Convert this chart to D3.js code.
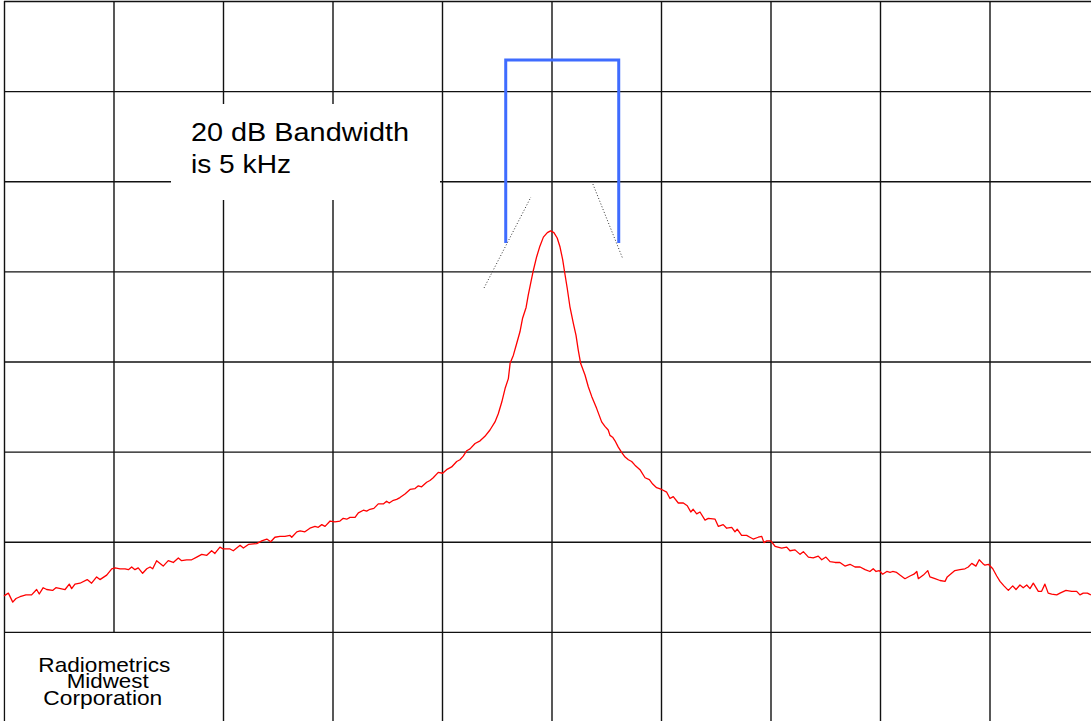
<!DOCTYPE html>
<html>
<head>
<meta charset="utf-8">
<script src="https://cdn.jsdelivr.net/npm/d3@7"></script>
<style>
  body { margin: 0; background: #fff; }
  svg { display: block; }
  text { font-family: "Liberation Sans", Arial, sans-serif; fill: #000; }
</style>
</head>
<body>
<div id="chart"></div>
<script>
// spectrum trace, [offset kHz, level dB]
const trace = [
  [-25.00,-66.0],[-24.80,-65.7],[-24.60,-66.7],[-24.45,-66.3],[-24.27,-66.1],[-24.15,-66.0],[-24.00,-65.9],[-23.74,-65.9],
  [-23.51,-65.3],[-23.39,-65.8],[-23.21,-65.1],[-23.05,-65.3],[-22.78,-65.4],[-22.63,-65.1],[-22.21,-65.3],[-22.02,-64.7],
  [-21.91,-65.2],[-21.76,-64.7],[-21.53,-64.6],[-21.20,-64.2],[-21.00,-64.6],[-20.77,-63.9],[-20.62,-64.2],[-20.31,-63.7],
  [-20.08,-63.0],[-19.93,-62.9],[-19.70,-63.0],[-19.47,-63.0],[-19.32,-63.1],[-19.17,-62.8],[-19.02,-63.1],[-18.87,-62.9],
  [-18.67,-63.5],[-18.48,-63.0],[-18.33,-62.8],[-18.21,-63.0],[-18.03,-62.1],[-17.73,-62.7],[-17.50,-62.1],[-17.27,-62.3],
  [-17.04,-61.8],[-16.89,-62.1],[-16.66,-62.0],[-16.43,-62.0],[-16.20,-61.7],[-15.97,-61.4],[-15.74,-61.5],[-15.52,-61.0],
  [-15.37,-61.3],[-15.14,-60.6],[-14.99,-60.8],[-14.68,-60.8],[-14.53,-61.0],[-14.22,-60.4],
  [-14.07,-60.7],[-13.84,-60.3],[-13.46,-60.2],[-13.23,-59.9],[-13.00,-59.7],[-12.82,-60.0],[-12.63,-59.5],[-12.40,-59.4],
  [-12.17,-59.4],[-11.94,-59.3],[-11.86,-59.5],[-11.63,-58.9],[-11.48,-58.8],[-11.26,-58.9],[-11.03,-58.5],[-10.80,-58.3],
  [-10.65,-58.4],[-10.49,-58.1],[-10.34,-58.3],[-10.11,-57.7],[-9.89,-57.8],[-9.66,-57.7],[-9.51,-57.4],[-9.35,-57.5],
  [-9.20,-57.3],[-8.97,-57.3],[-8.82,-56.8],[-8.59,-56.5],[-8.44,-56.6],[-8.29,-56.4],[-8.11,-56.3],[-7.91,-55.8],
  [-7.68,-55.8],[-7.53,-55.5],[-7.41,-55.7],[-7.22,-55.4],[-7.07,-55.3],[-6.92,-55.1],[-6.69,-54.7],[-6.46,-54.2],
  [-6.23,-54.1],[-6.08,-53.8],[-5.93,-53.9],[-5.70,-53.4],[-5.55,-53.2],[-5.40,-52.9],[-5.17,-52.3],[-4.97,-52.4],
  [-4.79,-52.0],[-4.56,-51.7],[-4.33,-51.1],[-4.18,-50.9],[-4.03,-50.5],[-3.87,-49.9],[-3.72,-49.7],
  [-3.49,-49.1],[-3.26,-48.8],[-3.04,-48.3],[-2.81,-47.6],[-2.58,-46.7],[-2.43,-45.8],[-2.27,-44.5],[-2.12,-43.0],
  [-1.97,-41.9],[-1.89,-40.2],[-1.74,-39.3],[-1.59,-38.0],[-1.44,-36.7],[-1.32,-35.2],[-1.16,-34.0],[-1.06,-32.6],
  [-0.95,-31.3],[-0.83,-29.9],[-0.68,-28.4],[-0.53,-27.2],[-0.37,-26.2],[-0.19,-25.7],[-0.04,-25.5],[0.11,-25.7],
  [0.26,-26.3],[0.39,-27.3],[0.51,-28.7],[0.62,-30.4],[0.72,-31.9],[0.84,-33.9],[1.00,-35.8],[1.12,-37.1],
  [1.22,-38.7],[1.33,-40.2],[1.53,-41.5],[1.68,-42.8],[1.84,-43.9],[2.06,-45.2],[2.29,-46.7],[2.44,-47.2],
  [2.59,-47.6],[2.67,-48.2],[2.79,-48.4],[2.90,-48.8],[3.05,-49.5],[3.21,-50.1],[3.36,-50.6],[3.51,-50.9],
  [3.66,-51.1],[3.81,-51.5],[4.04,-52.0],
  [4.27,-52.9],[4.47,-53.1],[4.62,-53.6],[4.80,-54.0],[5.03,-54.2],[5.26,-54.5],[5.41,-55.2],[5.56,-55.0],
  [5.79,-55.7],[6.02,-55.7],[6.20,-56.0],[6.36,-56.7],[6.47,-56.4],[6.63,-56.9],[6.78,-56.7],[7.01,-57.6],
  [7.16,-57.4],[7.47,-57.5],[7.62,-58.3],[7.84,-58.1],[8.00,-58.5],[8.23,-58.4],[8.38,-58.9],[8.48,-58.6],
  [8.68,-59.3],[8.91,-59.3],[9.06,-59.5],[9.21,-59.7],[9.44,-59.5],[9.60,-59.4],[9.70,-60.1],[9.83,-59.9],
  [10.01,-59.9],[10.21,-60.5],[10.51,-60.7],[10.74,-60.6],[10.89,-61.0],[11.12,-60.9],[11.35,-61.4],[11.50,-61.1],
  [11.73,-61.7],[11.95,-61.8],[12.18,-61.6],[12.34,-62.0],[12.53,-61.7],[12.72,-62.2],[12.95,-62.3],[13.17,-62.3],
  [13.40,-62.7],[13.63,-62.5],[13.86,-62.8],[14.09,-62.8],
  [14.32,-63.1],[14.54,-63.3],[14.69,-63.0],[14.82,-63.3],[14.97,-63.2],[15.12,-63.6],[15.31,-63.3],[15.46,-63.4],
  [15.58,-63.3],[15.76,-63.4],[15.91,-63.7],[16.14,-64.1],[16.37,-63.8],[16.55,-63.6],[16.68,-63.3],[16.75,-64.1],
  [16.98,-63.7],[17.18,-63.2],[17.28,-63.9],[17.51,-64.1],[17.74,-64.3],[17.97,-64.4],[18.07,-63.9],[18.27,-63.5],
  [18.42,-63.2],[18.65,-63.1],[18.88,-63.0],[19.03,-62.8],[19.19,-62.4],[19.38,-62.7],[19.53,-62.0],[19.69,-62.4],
  [19.79,-62.6],[19.95,-62.5],[20.15,-63.0],[20.33,-63.8],[20.48,-64.4],[20.66,-64.9],[20.86,-65.4],[21.06,-64.9],
  [21.21,-65.3],[21.39,-64.8],[21.54,-65.1],[21.70,-64.8],[21.85,-65.2],[22.00,-64.6],[22.23,-65.5],[22.38,-65.5],
  [22.53,-64.7],[22.68,-65.7],[22.84,-65.8],[23.07,-65.9],[23.22,-65.7],[23.49,-65.4],[23.75,-65.5],[23.98,-65.5],
  [24.13,-65.9],[24.28,-65.7],[24.47,-65.7],[24.63,-65.9]
]

// graticule: 5 kHz / div, 10 dB / div
const gridFreq = [-25, -20, -15, -10, -5, 0, 5, 10, 15, 20]
const gridLevel = [0, -10, -20, -30, -40, -50, -60, -70]

// 20 dB bandwidth bracket
const bracketFreq = [-2.09, -2.09, 3.07, 3.07]
const bracketLevel = [-26.85, -6.55, -6.55, -26.85]

// dotted slope guides
const slopeLeft = [[-3.08, -31.84], [-0.94, -21.75]]
const slopeRight = [[1.89, -20.31], [3.26, -28.63]]

const noteLines = ['20 dB Bandwidth', 'is 5 kHz']
const logoLines = ['Radiometrics', 'Midwest', 'Corporation']

const width = 1091
const height = 721

const x = d3.scaleLinear().domain([-25, 25]).range([4, 1099])
const y = d3.scaleLinear().domain([0, -80]).range([1, 722])

const svg = d3.select('#chart')
.append('svg')
.attr('width', width)
.attr('height', height)

// grid lines from the axes
const gx = svg.append('g')
.attr('transform', `translate(0,${y(-80)})`)
.call(d3.axisBottom(x).tickValues(gridFreq).tickSize(-(y(-80) - y(0))).tickFormat(''))

const gy = svg.append('g')
.attr('transform', `translate(${x(-25)},0)`)
.call(d3.axisLeft(y).tickValues(gridLevel).tickSize(-(x(25) - x(-25))).tickFormat(''))

svg.selectAll('.domain').remove()
svg.selectAll('.tick line')
.attr('stroke', '#111')
.attr('stroke-width', 1.4)

// white label panels cut the grid
svg.append('rect')
.attr('x', 171).attr('y', 104)
.attr('width', 269).attr('height', 96)
.attr('fill', '#fff')

svg.append('rect')
.attr('x', 5.5).attr('y', 633)
.attr('width', 216).attr('height', 90)
.attr('fill', '#fff')

const line = d3.line()
.x(d => x(d[0]))
.y(d => y(d[1]))

svg.append('path')
.datum(trace)
.attr('d', line)
.attr('fill', 'none')
.attr('stroke', '#ff0000')
.attr('stroke-width', 1.3)
.attr('stroke-linejoin', 'round')

svg.append('path')
.datum(d3.zip(bracketFreq, bracketLevel))
.attr('d', line)
.attr('fill', 'none')
.attr('stroke', '#3f6cff')
.attr('stroke-width', 3)

svg.selectAll('.slope')
.data([slopeLeft, slopeRight])
.enter()
.append('path')
.attr('class', 'slope')
.attr('d', line)
.attr('fill', 'none')
.attr('stroke', '#333')
.attr('stroke-width', 1)
.attr('stroke-dasharray', '1,2')

// annotation
const note = svg.append('g')
const noteLen = [218, 100]
note.selectAll('text')
.data(noteLines)
.enter()
.append('text')
.attr('x', 191)
.attr('y', (d, i) => 140.7 + i * 32.6)
.attr('font-size', 25)
.attr('textLength', (d, i) => noteLen[i])
.attr('lengthAdjust', 'spacingAndGlyphs')
.text(d => d)

const logo = svg.append('g')
const logoX = [38.3, 66.7, 43.3]
const logoLen = [132, 82, 119]
logo.selectAll('text')
.data(logoLines)
.enter()
.append('text')
.attr('x', (d, i) => logoX[i])
.attr('y', (d, i) => 671.7 + i * 16.7)
.attr('font-size', 21)
.attr('textLength', (d, i) => logoLen[i])
.attr('lengthAdjust', 'spacingAndGlyphs')
.text(d => d)
</script>
</body>
</html>
